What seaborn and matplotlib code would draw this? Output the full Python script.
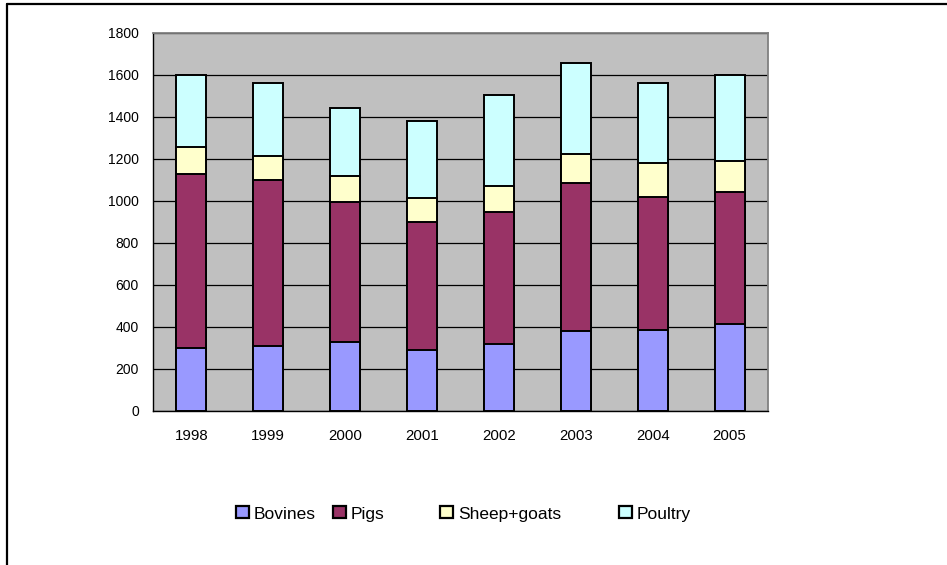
import matplotlib
matplotlib.use("Agg")
import matplotlib.pyplot as plt
from matplotlib.lines import Line2D
import seaborn as sns
import pandas as pd
import numpy as np

# Livestock slaughterings by year (stacked)
years = ["1998", "1999", "2000", "2001", "2002", "2003", "2004", "2005"]
bovines = [300, 310, 330, 290, 320, 380, 385, 415]
pigs = [830, 790, 665, 610, 630, 705, 635, 630]
sheep_goats = [125, 115, 125, 115, 120, 140, 160, 145]
poultry = [345, 345, 325, 365, 435, 430, 380, 410]

series_names = ["Bovines", "Pigs", "Sheep+goats", "Poultry"]
series_values = [bovines, pigs, sheep_goats, poultry]
series_colors = ["#9999FF", "#993366", "#FFFFCC", "#CCFFFF"]
y_ticks = [0, 200, 400, 600, 800, 1000, 1200, 1400, 1600, 1800]

sns.set_style("white")
plt.rcParams["font.family"] = ["Liberation Sans", "DejaVu Sans"]
plt.rcParams["text.color"] = "black"
plt.rcParams["xtick.color"] = "black"
plt.rcParams["ytick.color"] = "black"

# cumulative tops for each stacked layer
cum = np.cumsum(np.array(series_values), axis=0)
df = pd.DataFrame({"year": years})
for name, tops in zip(series_names, cum):
    df[name] = tops

fig = plt.figure(figsize=(9.47, 5.65), dpi=100)
ax = fig.add_axes([153 / 947, 1 - 411 / 565, (768 - 153) / 947, (411 - 33) / 565])
ax.set_facecolor("#C0C0C0")

# draw from the tallest layer down so each lower segment covers the one above
for name, color in reversed(list(zip(series_names, series_colors))):
    sns.barplot(data=df, x="year", y=name, color=color, width=0.39,
                edgecolor="black", linewidth=1.4, saturation=1, ax=ax, zorder=3)

ax.set_xlim(-0.5, len(years) - 0.5)
ax.set_ylim(0, 1800)
ax.set_yticks(y_ticks)
ax.set_yticklabels([str(v) for v in y_ticks], fontsize=10, color="black")
ax.set_xticks(range(len(years)))
ax.set_xticklabels(years, fontsize=10.8, color="black")
ax.set_xlabel("")
ax.set_ylabel("")

# category boundary ticks on the x axis
ax.set_xticks(np.arange(-0.5, len(years), 1.0), minor=True)
ax.tick_params(axis="x", which="major", length=0, pad=13)
ax.tick_params(axis="x", which="minor", length=5, width=1, color="black", direction="out")
ax.tick_params(axis="y", which="major", length=5.8, width=1, color="black", direction="out", pad=4.3)

ax.yaxis.grid(True, color="black", linewidth=0.9, zorder=1)
ax.set_axisbelow(True)

for side in ["left", "bottom"]:
    ax.spines[side].set_color("black")
    ax.spines[side].set_linewidth(1.0)
for side in ["top", "right"]:
    ax.spines[side].set_color("#808080")
    ax.spines[side].set_linewidth(1.3)

# legend entries laid out along the bottom
legend_x = [236, 333, 440, 619]
for name, color, x in zip(series_names, series_colors, legend_x):
    patch = plt.Rectangle((0, 0), 1, 1, facecolor=color, edgecolor="black", linewidth=1.6)
    fig.legend(handles=[patch], labels=[name], loc="center left",
               bbox_to_anchor=(x / 947, 1 - 514 / 565), frameon=False,
               borderpad=0, borderaxespad=0, handlelength=0.72, handleheight=0.68,
               handletextpad=0.32, fontsize=12.5, labelcolor="black")

# chart frame
fig.add_artist(Line2D([7 / 947, 1.0], [1 - 4 / 565, 1 - 4 / 565], color="black", linewidth=1.6,
                      transform=fig.transFigure))
fig.add_artist(Line2D([7 / 947, 7 / 947], [1 - 4 / 565, 0.0], color="black", linewidth=1.6,
                      transform=fig.transFigure))

fig.savefig("out.png", dpi=100)
